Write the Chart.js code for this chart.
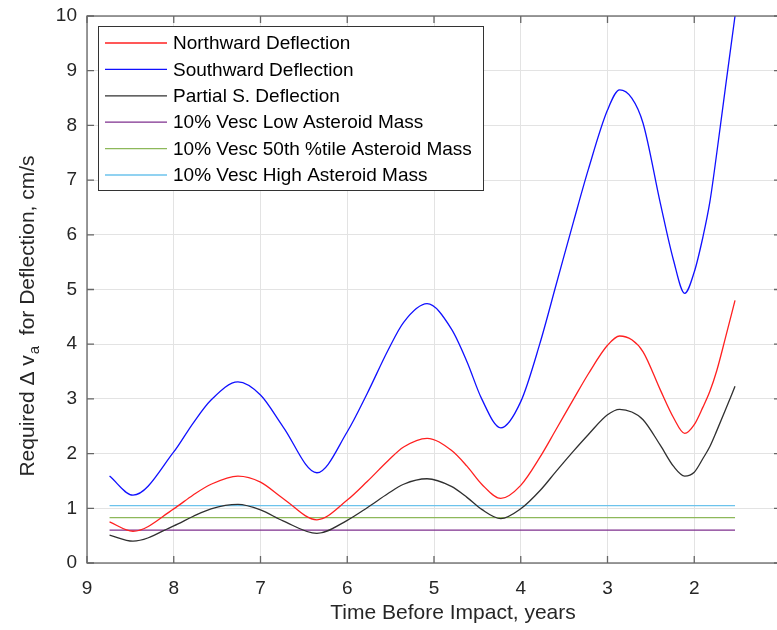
<!DOCTYPE html>
<html>
<head>
<meta charset="utf-8">
<script src="https://cdn.jsdelivr.net/npm/chart.js@4.4.1/dist/chart.umd.min.js"></script>
<style>
  html, body { margin: 0; padding: 0; background: #fff; overflow: hidden; }
  #wrap { width: 790px; height: 630px; }
</style>
</head>
<body>
<div id="wrap"><canvas id="chart" width="790" height="630"></canvas></div>
<script>
// valores (tiempo antes del impacto, años -> cm/s)
const tiempo = [8.74, 8.47, 8.00, 7.78, 7.57, 7.26, 7.00, 6.74, 6.35, 6.00, 5.77, 5.53, 5.35, 5.08, 4.80, 4.62, 4.45, 4.23,
  4.00, 3.78, 3.59, 3.39, 3.22, 3.00, 2.86, 2.72, 2.59, 2.39, 2.24, 2.11, 2.00, 1.90, 1.82, 1.74, 1.64, 1.53];
const southV = [1.59, 1.24, 2.03, 2.55, 2.98, 3.31, 3.07, 2.49, 1.65, 2.40, 3.10, 3.89, 4.40, 4.74, 4.28, 3.68, 3.00, 2.47,
  2.95, 4.01, 5.10, 6.25, 7.20, 8.28, 8.65, 8.50, 8.04, 6.57, 5.54, 4.93, 5.32, 5.96, 6.60, 7.50, 8.70, 10.0];
const northV = [0.75, 0.58, 0.99, 1.24, 1.44, 1.59, 1.48, 1.18, 0.79, 1.15, 1.49, 1.87, 2.12, 2.28, 2.06, 1.77, 1.44, 1.18,
  1.42, 1.93, 2.45, 3.00, 3.46, 3.98, 4.15, 4.08, 3.86, 3.16, 2.66, 2.37, 2.53, 2.85, 3.14, 3.52, 4.12, 4.80];
const partialV = [0.51, 0.40, 0.68, 0.85, 0.99, 1.07, 0.97, 0.77, 0.54, 0.78, 1.01, 1.27, 1.44, 1.54, 1.40, 1.20, 0.98, 0.81,
  0.99, 1.32, 1.68, 2.05, 2.35, 2.71, 2.81, 2.76, 2.62, 2.15, 1.77, 1.59, 1.66, 1.91, 2.13, 2.42, 2.80, 3.23];

// lineas horizontales (10% Vesc)
const vescT = [8.74, 1.53];
const vescLow = 0.60;
const vescMid = 0.83;
const vescHigh = 1.05;

const seriesLabels = [
  'Northward Deflection',
  'Southward Deflection',
  'Partial S. Deflection',
  '10% Vesc Low Asteroid Mass',
  '10% Vesc 50th %tile Asteroid Mass',
  '10% Vesc High Asteroid Mass'
];
const xTicks = [9, 8, 7, 6, 5, 4, 3, 2, 1];
const yTicks = [0, 1, 2, 3, 4, 5, 6, 7, 8, 9, 10];

const colores = ['#ff2020', '#1010ff', '#303030', '#7E2F8E', '#8db85a', '#6cc3ec'];
const FONT = 'Arial, "Liberation Sans", sans-serif';

function pares(ts, vs) {
  return ts.map((t, i) => ({ x: t, y: vs[i] }));
}
function constante(ts, v) {
  return ts.map(t => ({ x: t, y: v }));
}

// caja de ejes estilo MATLAB con ticks hacia adentro, leyenda y titulos
const cajaPlugin = {
  id: 'caja',
  afterDraw(chart) {
    const ctx = chart.ctx;
    const a = chart.chartArea;
    const xs = chart.scales.x, ys = chart.scales.y;
    ctx.save();
    ctx.strokeStyle = '#666';
    ctx.lineWidth = 1.3;
    ctx.strokeRect(a.left, a.top, a.right - a.left, a.bottom - a.top);
    ctx.beginPath();
    const L = 7;
    xTicks.forEach(v => {
      const px = xs.getPixelForValue(v);
      ctx.moveTo(px, a.bottom); ctx.lineTo(px, a.bottom - L);
      ctx.moveTo(px, a.top); ctx.lineTo(px, a.top + L);
    });
    yTicks.forEach(v => {
      const py = ys.getPixelForValue(v);
      ctx.moveTo(a.left, py); ctx.lineTo(a.left + L, py);
      ctx.moveTo(a.right, py); ctx.lineTo(a.right - L, py);
    });
    ctx.stroke();

    // leyenda
    const bx = 98.5, by = 26.5, bw = 385, bh = 164;
    ctx.fillStyle = '#fff';
    ctx.fillRect(bx, by, bw, bh);
    ctx.strokeStyle = '#333';
    ctx.lineWidth = 1;
    ctx.strokeRect(bx, by, bw, bh);
    ctx.font = '19px ' + FONT;
    ctx.textBaseline = 'middle';
    ctx.textAlign = 'left';
    chart.data.datasets.forEach((ds, i) => {
      const ry = 43 + i * 26.4;
      ctx.strokeStyle = ds.borderColor;
      ctx.lineWidth = 1.3;
      ctx.beginPath();
      ctx.moveTo(105, ry); ctx.lineTo(167, ry);
      ctx.stroke();
      ctx.fillStyle = '#000';
      ctx.fillText(ds.label, 173, ry + 1);
    });

    // titulo eje x
    ctx.fillStyle = '#262626';
    ctx.font = '21px ' + FONT;
    ctx.textAlign = 'center';
    ctx.fillText('Time Before Impact, years', 453, 613);

    // titulo eje y con subindice
    const p1 = 'Required \u0394 v', sub = 'a', p2 = '  for Deflection, cm/s';
    ctx.font = '21px ' + FONT;
    const w1 = ctx.measureText(p1).width, w3 = ctx.measureText(p2).width;
    ctx.font = '15px ' + FONT;
    const w2 = ctx.measureText(sub).width;
    const total = w1 + w2 + w3;
    ctx.translate(27, 316);
    ctx.rotate(-Math.PI / 2);
    ctx.textAlign = 'left';
    ctx.textBaseline = 'alphabetic';
    ctx.font = '21px ' + FONT;
    ctx.fillText(p1, -total / 2, 7);
    ctx.font = '15px ' + FONT;
    ctx.fillText(sub, -total / 2 + w1 + 1, 12);
    ctx.font = '21px ' + FONT;
    ctx.fillText(p2, -total / 2 + w1 + w2, 7);
    ctx.restore();
  }
};

const ctx = document.getElementById('chart').getContext('2d');
new Chart(ctx, {
  type: 'line',
  data: {
    datasets: [
      { label: seriesLabels[0], data: pares(tiempo, northV), borderColor: colores[0] },
      { label: seriesLabels[1], data: pares(tiempo, southV), borderColor: colores[1] },
      { label: seriesLabels[2], data: pares(tiempo, partialV), borderColor: colores[2] },
      { label: seriesLabels[3], data: constante(vescT, vescLow), borderColor: colores[3] },
      { label: seriesLabels[4], data: constante(vescT, vescMid), borderColor: colores[4] },
      { label: seriesLabels[5], data: constante(vescT, vescHigh), borderColor: colores[5] }
    ]
  },
  options: {
    responsive: false,
    animation: false,
    clip: 0,
    layout: { padding: { left: 0, top: 16, right: 9, bottom: 0 } },
    elements: {
      point: { radius: 0 },
      line: { borderWidth: 1.3, cubicInterpolationMode: 'monotone', fill: false }
    },
    plugins: {
      legend: { display: false },
      tooltip: { enabled: false }
    },
    scales: {
      x: {
        type: 'linear',
        reverse: true,
        min: 1,
        max: 9,
        afterBuildTicks: s => { s.ticks = xTicks.map(v => ({ value: v })); },
        afterFit: s => { s.height = 67; s.paddingLeft = 0; s.paddingRight = 0; },
        border: { display: false },
        grid: { color: '#e3e3e3', lineWidth: 1, drawTicks: false },
        ticks: { color: '#262626', font: { family: FONT, size: 19 }, padding: 14, maxRotation: 0 }
      },
      y: {
        min: 0,
        max: 10,
        afterBuildTicks: s => { s.ticks = yTicks.map(v => ({ value: v })); },
        afterFit: s => { s.width = 87; s.paddingTop = 0; s.paddingBottom = 0; },
        border: { display: false },
        grid: { color: '#e3e3e3', lineWidth: 1, drawTicks: false },
        ticks: { color: '#262626', font: { family: FONT, size: 19 }, padding: 10 }
      }
    }
  },
  plugins: [cajaPlugin]
});
</script>
</body>
</html>
